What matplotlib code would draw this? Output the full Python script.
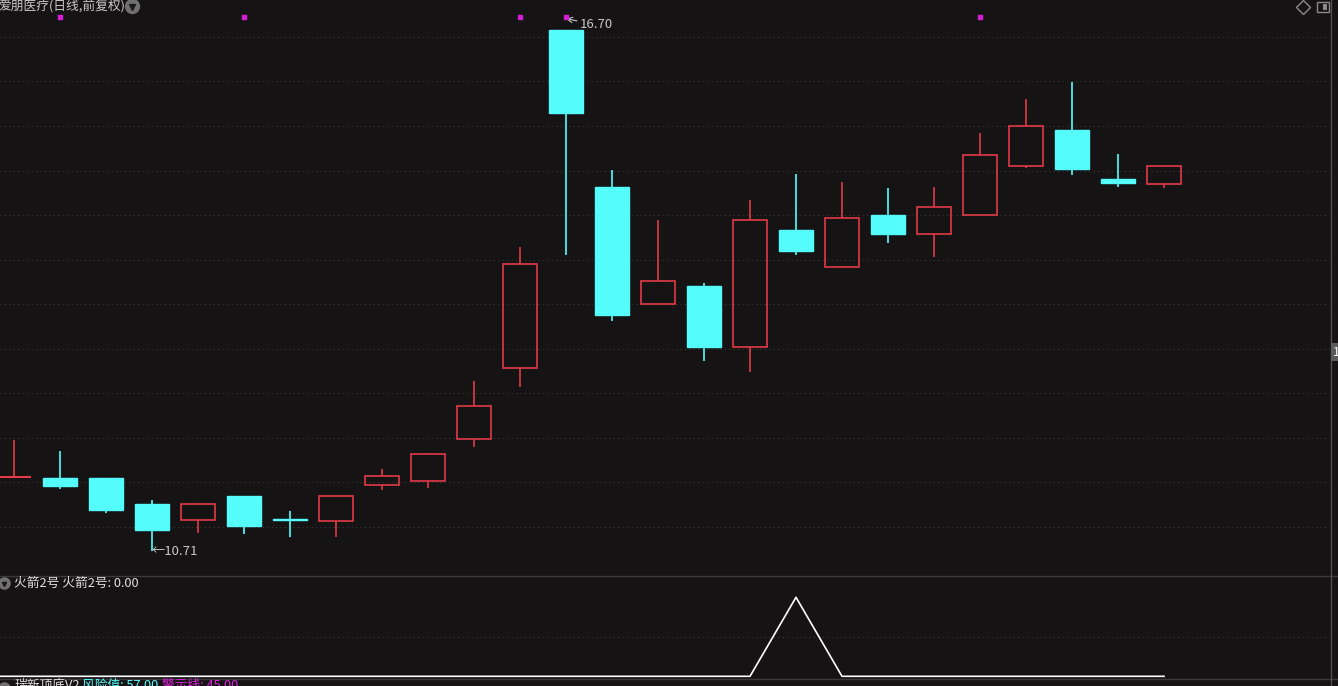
import numpy as np
import matplotlib
matplotlib.use('Agg')
from matplotlib import pyplot as plt
from matplotlib.patches import Rectangle

plt.rcParams['font.family'] = ['Noto Sans CJK SC', 'DejaVu Sans']

# daily OHLC
opens = [11.56, 11.55, 11.55, 11.25, 11.07, 11.34, 11.08, 11.05, 11.47, 11.51, 12.00, 12.81, 16.70,
         14.90, 13.55, 13.76, 13.05, 14.40, 13.97, 14.57, 14.35, 14.57, 15.14, 15.55, 14.99, 14.93]
highs = [11.99, 11.86, 11.55, 11.30, 11.26, 11.34, 11.17, 11.35, 11.65, 11.84, 12.66, 14.21, 16.70,
         15.09, 14.52, 13.79, 14.75, 15.04, 14.95, 14.88, 14.89, 15.52, 15.91, 16.10, 15.27, 15.14]
lows = [11.56, 11.42, 11.15, 10.71, 10.92, 10.91, 10.87, 10.87, 11.41, 11.43, 11.91, 12.60, 14.11,
        13.35, 13.55, 12.89, 12.77, 14.11, 13.97, 14.25, 14.09, 14.57, 15.11, 15.03, 14.90, 14.88]
closes = [11.56, 11.46, 11.18, 10.95, 11.25, 11.00, 11.07, 11.34, 11.57, 11.83, 12.38, 14.01, 15.75,
          13.42, 13.81, 13.05, 14.51, 14.16, 14.54, 14.36, 14.67, 15.26, 15.60, 15.10, 14.94, 15.14]
signal_days = [1, 5, 11, 12, 21]

# 火箭2号 indicator, first value is the day before the first candle
rocket_days = list(range(-1, 26))
rocket = [0, 0, 0, 0, 0, 0, 0, 0, 0, 0, 0, 0, 0, 0, 0, 0, 0, 0, 1, 0, 0, 0, 0, 0, 0, 0, 0]

W, H = 1338, 686
BG = '#151314'
RED = '#e23a48'
CYAN = '#54fcfc'
GRID = '#3c3a3b'
TXT = '#c8c8c8'

fig = plt.figure(figsize=(W / 100, H / 100), dpi=100, facecolor=BG)

# price panel
ax = fig.add_axes([0, (H - 575) / H, 1330 / W, 575 / H], facecolor=BG)
ax.set_xlim(-14 / 46, (1330 - 14) / 46)
ax.set_ylim(16.70 - 545 / 86.98, 16.70 + 30 / 86.98)
for g in np.linspace(16.62, 10.99, 12):
    ax.axhline(g, color=GRID, lw=0.8, ls=(0, (1, 3)), zorder=0)

w = 0.76
for i in range(len(opens)):
    o, hi, lo, c = opens[i], highs[i], lows[i], closes[i]
    if c >= o:
        top, bot = c, o
        if top - bot < 0.01:
            ax.hlines(o, i - w / 2, i + w / 2, color=RED, lw=1.5, zorder=3)
        else:
            ax.add_patch(Rectangle((i - w / 2, bot), w, top - bot, fill=False,
                                   edgecolor=RED, lw=1.2, zorder=3))
        if hi > top:
            ax.vlines(i, top, hi, color=RED, lw=1.2, zorder=2)
        if lo < bot:
            ax.vlines(i, lo, bot, color=RED, lw=1.2, zorder=2)
    else:
        ax.vlines(i, lo, hi, color=CYAN, lw=1.2, zorder=2)
        ax.add_patch(Rectangle((i - w / 2, c), w, o - c, facecolor=CYAN,
                               edgecolor=CYAN, lw=1.0, zorder=3))

ax.scatter(signal_days, [16.85] * len(signal_days), marker='s', s=5, color='#d21ed2', zorder=4)

ax.annotate('16.70', xy=(12, 16.83), xytext=(12.3, 16.76), color=TXT, fontsize=9.5,
            va='center', arrowprops=dict(arrowstyle='->', color=TXT, lw=0.8, shrinkA=0, shrinkB=0))
ax.text(3, 10.71, '\u219010.71', color=TXT, fontsize=9.5, va='center', ha='left')

ax.set_xticks([])
ax.set_yticks([])
for s in ax.spines.values():
    s.set_visible(False)

# indicator panel
ax2 = fig.add_axes([0, (H - 679) / H, 1330 / W, 103 / H], facecolor=BG)
ax2.set_xlim(-14 / 46, (1330 - 14) / 46)
ax2.set_ylim(-(679 - 676.3) / 79, (676.3 - 576) / 79)
ax2.axhline(0.5, color=GRID, lw=0.8, ls=(0, (1, 3)), zorder=0)
ax2.plot(rocket_days, rocket, color='white', lw=1.2)
ax2.set_xticks([])
ax2.set_yticks([])
for s in ax2.spines.values():
    s.set_visible(False)

# separators and frame
fig.add_artist(plt.Line2D([0, 1], [(H - 575.5) / H] * 2, color='#3a3a3a', lw=1))
fig.add_artist(plt.Line2D([0, 1], [(H - 678.5) / H] * 2, color='#3a3a3a', lw=1))
fig.add_artist(plt.Line2D([1330.5 / W] * 2, [(H - 575) / H, 1], color='#505050', lw=1))
fig.add_artist(plt.Line2D([1330.5 / W] * 2, [0, (H - 576) / H], color='#505050', lw=1))

# titles
fig.text(-2 / W, 1 - 6 / H, '爱朋医疗(日线,前复权)', color=TXT, fontsize=9.2, va='center', ha='left')
fig.add_artist(plt.Line2D([132 / W], [1 - 6 / H], marker='o', ms=10, color='#707070', lw=0))
fig.add_artist(plt.Line2D([132 / W], [1 - 6.5 / H], marker='v', ms=4, color='#1a1a1a', lw=0))
fig.add_artist(plt.Line2D([1303 / W], [1 - 7 / H], marker='D', ms=7, mfc='none', mec='#8a8a8a', lw=0))
fig.add_artist(Rectangle((1317 / W, 1 - 12 / H), 12 / W, 10 / H, fill=False, edgecolor='#8a8a8a',
                         lw=1, transform=fig.transFigure))
fig.add_artist(Rectangle((1323 / W, 1 - 10 / H), 4 / W, 6 / H, facecolor='#8a8a8a',
                         edgecolor='none', transform=fig.transFigure))

fig.add_artist(plt.Line2D([4 / W], [1 - 583 / H], marker='o', ms=8, color='#707070', lw=0))
fig.add_artist(plt.Line2D([4 / W], [1 - 583.5 / H], marker='v', ms=3, color='#1a1a1a', lw=0))
fig.text(14 / W, 1 - 583 / H, '火箭2号 火箭2号: 0.00', color='#e0e0e0', fontsize=9.2,
         va='center', ha='left')

fig.add_artist(plt.Line2D([4 / W], [1 - 688 / H], marker='o', ms=8, color='#707070', lw=0))
fig.text(14 / W, 1 - 679 / H, '瑞新顶底V2', color='#e0e0e0', fontsize=9.2, va='top', ha='left')
fig.text(82 / W, 1 - 679 / H, '风险值: 57.00', color=CYAN, fontsize=9.2, va='top', ha='left')
fig.text(162 / W, 1 - 679 / H, '警示线: 45.00', color='#e020e0', fontsize=9.2, va='top', ha='left')

fig.text(1333 / W, 1 - 352 / H, '13.00', color='white', fontsize=9, va='center', ha='left',
         bbox=dict(boxstyle='square,pad=0.2', facecolor='#5a5a5a', edgecolor='none'))

fig.savefig('out.png', dpi=100, facecolor=BG)
